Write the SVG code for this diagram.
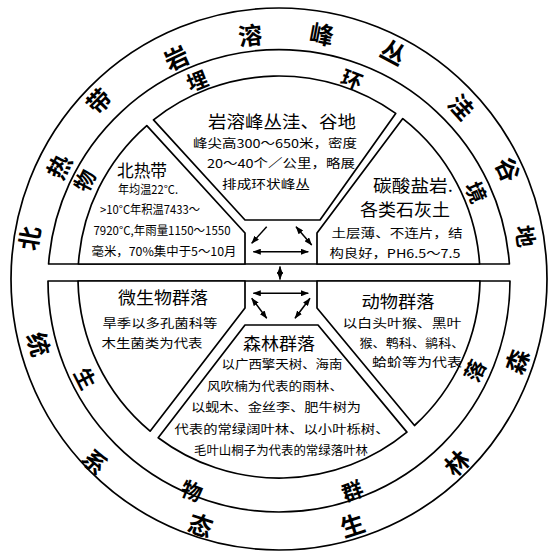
<svg xmlns="http://www.w3.org/2000/svg" width="549" height="552" viewBox="0 0 549 552">
<defs>
<style>
.ln{fill:none;stroke:#000;stroke-width:1.7;stroke-linejoin:round}
.sec{fill:#fff;stroke:#000;stroke-width:1.7;stroke-linejoin:round}
.t{font-family:"Noto Sans CJK SC","Noto Sans",sans-serif;fill:#000;text-anchor:middle;dominant-baseline:central}
.ring{font-size:24px;font-weight:bold}
.mid{font-size:21px;font-weight:bold}
.ti{font-size:17px}
.bd{font-size:12px}
.ar{fill:none;stroke:#000;stroke-width:1.5}
</style>
<marker id="ah" viewBox="0 0 8 6" refX="7.5" refY="3" markerWidth="8" markerHeight="6" markerUnits="userSpaceOnUse" orient="auto-start-reverse">
<path d="M0,0 L8,3 L0,6 z" fill="#000"/>
</marker>
</defs>
<rect width="549" height="552" fill="#fff"/>

<g id="rings">
<ellipse class="ln" cx="279" cy="279" rx="268" ry="271"/>
<path class="ln" d="M48.6 264 A231 231 0 0 1 509.4 264 Z"/>
<path class="ln" d="M48 281 A231 231 0 0 0 510 281 Z"/>
</g>

<g id="outer-ring-text" class="t ring">
<text transform="translate(28,238) rotate(-80.7)">北</text>
<text transform="translate(58,166) rotate(-63.5)">热</text>
<text transform="translate(98,100) rotate(-45.6)">带</text>
<text transform="translate(176,57) rotate(-25)">岩</text>
<text transform="translate(250,34) rotate(-6.3)">溶</text>
<text transform="translate(322,33) rotate(10.8)">峰</text>
<text transform="translate(394,51) rotate(27.9)">丛</text>
<text transform="translate(462,106) rotate(47.7)">洼</text>
<text transform="translate(509,169) rotate(65.4)">谷</text>
<text style="font-size:22px;font-weight:bold" transform="translate(527,236) rotate(82)">地</text>
<text transform="translate(516,361) rotate(-70)">森</text>
<text transform="translate(456,462) rotate(-44.2)">林</text>
<text transform="translate(352,524) rotate(-18.3)">生</text>
<text transform="translate(201,524) rotate(18.5)">态</text>
<text transform="translate(96,461) rotate(44.4)">系</text>
<text transform="translate(40,344) rotate(74)">统</text>
</g>

<g id="middle-ring-text" class="t mid">
<text transform="translate(84,180) rotate(-63.5)">物</text>
<text transform="translate(197,80) rotate(-21.7)">埋</text>
<text transform="translate(352,79) rotate(21.4)">环</text>
<text transform="translate(477,192) rotate(67.1)">境</text>
<text transform="translate(86,378) rotate(62.9)">生</text>
<text transform="translate(192,490) rotate(21.3)">物</text>
<text transform="translate(352,490) rotate(-20.1)">群</text>
<text transform="translate(474,370) rotate(-64)">落</text>
</g>

<g id="karst-landform">
<path class="sec" d="M245 220 L153.5 119.9 A201 201 0 0 1 395.7 113.4 L320 220 Z"/>
<text class="t ti" x="282" y="120" textLength="148" lengthAdjust="spacingAndGlyphs">岩溶峰丛洼、谷地</text>
<text class="t bd" x="275" y="142" textLength="164" lengthAdjust="spacingAndGlyphs">峰尖高300～650米，密度</text>
<text class="t bd" x="281" y="162" textLength="148" lengthAdjust="spacingAndGlyphs">20～40个／公里，略展</text>
<text class="t bd" x="266" y="183" textLength="88" lengthAdjust="spacingAndGlyphs">排成环状峰丛</text>
</g>

<g id="north-tropical">
<path class="sec" d="M245 264 L245 233 L146.8 125.6 A201 201 0 0 0 78.4 264 Z"/>
<text class="t ti" x="142" y="169" textLength="50" lengthAdjust="spacingAndGlyphs">北热带</text>
<text class="t bd" x="148" y="188" textLength="60" lengthAdjust="spacingAndGlyphs">年均温22°C.</text>
<text class="t bd" x="150" y="208" textLength="100" lengthAdjust="spacingAndGlyphs">&gt;10°C年积温7433～</text>
<text class="t bd" x="162" y="229" textLength="137" lengthAdjust="spacingAndGlyphs">7920°C,年雨量1150～1550</text>
<text class="t bd" x="164" y="250" textLength="145" lengthAdjust="spacingAndGlyphs">毫米，70%集中于5～10月</text>
</g>

<g id="carbonate-soil">
<path class="sec" d="M317 264 L317 233 L402.8 118.6 A201 201 0 0 1 479.6 264 Z"/>
<text class="t ti" x="413" y="184" textLength="80" lengthAdjust="spacingAndGlyphs">碳酸盐岩.</text>
<text class="t ti" x="405" y="208" textLength="90" lengthAdjust="spacingAndGlyphs">各类石灰土</text>
<text class="t bd" x="397" y="232" textLength="131" lengthAdjust="spacingAndGlyphs">土层薄、不连片，结</text>
<text class="t bd" x="395" y="252" textLength="131" lengthAdjust="spacingAndGlyphs">构良好，PH6.5～7.5</text>
</g>

<g id="microbe-community">
<path class="sec" d="M245 281 L245 308 L150.1 431.2 A201 201 0 0 1 78 281 Z"/>
<text class="t ti" x="163" y="296" textLength="90" lengthAdjust="spacingAndGlyphs">微生物群落</text>
<text class="t bd" x="160" y="322" textLength="115" lengthAdjust="spacingAndGlyphs">旱季以多孔菌科等</text>
<text class="t bd" x="152" y="342" textLength="101" lengthAdjust="spacingAndGlyphs">木生菌类为代表</text>
</g>

<g id="animal-community">
<path class="sec" d="M317 281 L317 308 L414.5 425.5 A201 201 0 0 0 480 281 Z"/>
<text class="t ti" x="398" y="300" textLength="73" lengthAdjust="spacingAndGlyphs">动物群落</text>
<text class="t bd" x="402" y="322" textLength="119" lengthAdjust="spacingAndGlyphs">以白头叶猴、黑叶</text>
<text class="t bd" x="412" y="342" textLength="105" lengthAdjust="spacingAndGlyphs">猴、鹎科、鹟科、</text>
<text class="t bd" x="417" y="361" textLength="90" lengthAdjust="spacingAndGlyphs">蛤蚧等为代表</text>
</g>

<g id="forest-community">
<path class="sec" d="M245 325 L318 325 L406.9 432.1 A201 201 0 0 1 158.2 437.7 Z"/>
<text class="t ti" x="279" y="342" textLength="72" lengthAdjust="spacingAndGlyphs">森林群落</text>
<text class="t bd" x="282" y="363" textLength="121" lengthAdjust="spacingAndGlyphs">以广西擎天树、海南</text>
<text class="t bd" x="275" y="385" textLength="136" lengthAdjust="spacingAndGlyphs">风吹楠为代表的雨林、</text>
<text class="t bd" x="276" y="406" textLength="170" lengthAdjust="spacingAndGlyphs">以蚬木、金丝李、肥牛树为</text>
<text class="t bd" x="282" y="428" textLength="215" lengthAdjust="spacingAndGlyphs">代表的常绿阔叶林、以小叶栎树、</text>
<text class="t bd" x="281" y="449" textLength="174" lengthAdjust="spacingAndGlyphs">毛叶山桐子为代表的常绿落叶林</text>
</g>

<g id="connectors">
<line class="ar" x1="266.7" y1="226.7" x2="251.7" y2="243.3" marker-end="url(#ah)"/>
<line class="ar" x1="296" y1="226.7" x2="311.7" y2="245" marker-start="url(#ah)" marker-end="url(#ah)"/>
<line class="ar" x1="253.3" y1="251.7" x2="308.3" y2="251.7" marker-start="url(#ah)" marker-end="url(#ah)"/>
<line class="ar" x1="280" y1="266.5" x2="280" y2="279.5" marker-start="url(#ah)" marker-end="url(#ah)"/>
<line class="ar" x1="253.3" y1="293.3" x2="308.3" y2="293.3" marker-start="url(#ah)" marker-end="url(#ah)"/>
<line class="ar" x1="251.7" y1="298.3" x2="266.7" y2="318.3" marker-start="url(#ah)" marker-end="url(#ah)"/>
<line class="ar" x1="295" y1="318.3" x2="310" y2="298.3" marker-start="url(#ah)" marker-end="url(#ah)"/>
</g>
</svg>
